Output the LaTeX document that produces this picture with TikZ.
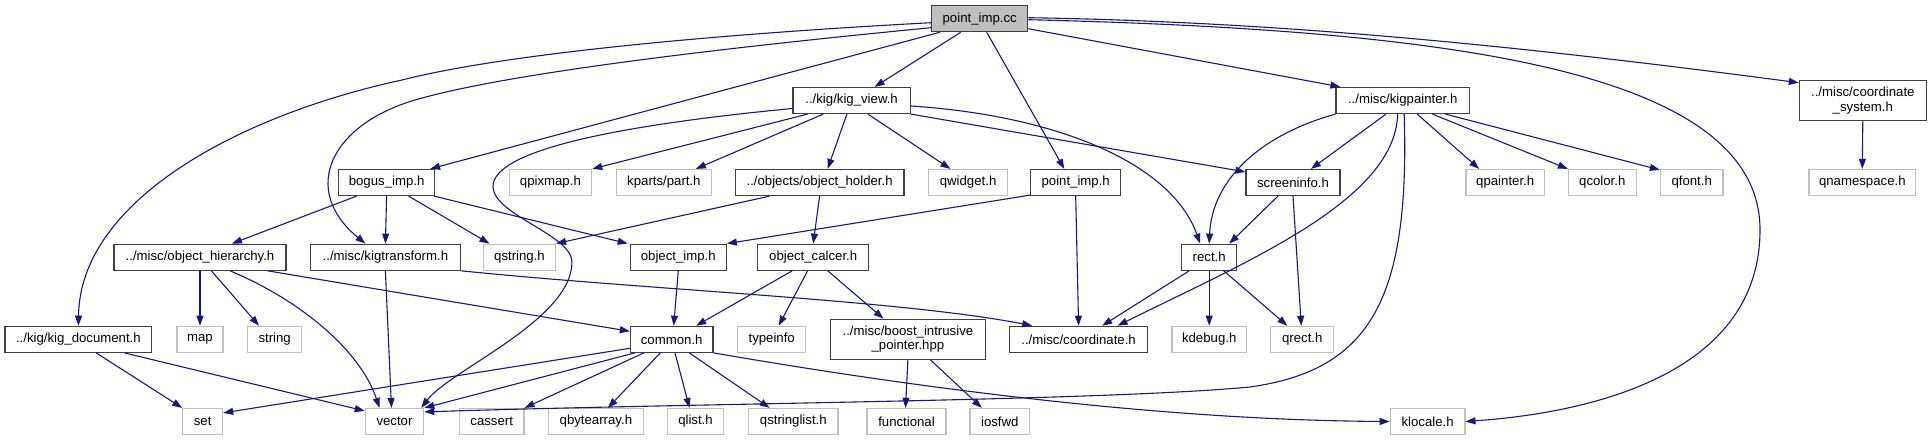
\documentclass[tikz,border=0pt]{standalone}
\usepackage{fontspec}
\setmainfont{Liberation Sans}
\usetikzlibrary{arrows.meta}
\definecolor{edgeblue}{HTML}{191970}
\definecolor{extgray}{HTML}{BFBFBF}
\definecolor{nodeborder}{HTML}{404040}
\begin{document}
\begin{tikzpicture}[x=1pt,y=-1pt,
  box/.style={rectangle, inner sep=0pt, minimum height=26pt, align=center,
    font=\fontsize{13.2}{14.7}\selectfont, text=black, line width=1.2pt},
  int/.style={box, draw=nodeborder, fill=white},
  ext/.style={box, draw=extgray, fill=white},
  rootn/.style={box, draw=nodeborder, fill=extgray},
  dep/.style={draw=edgeblue, line width=1.1pt, -{Triangle[length=10pt,width=7pt]}}]
\useasboundingbox (0,0) rectangle (1931,440);
% row 1
\node[rootn, minimum width=96pt] (root) at (979.7,18.7) {point\_imp.cc};
% row 2
\node[int, minimum width=117.4pt] (kigview) at (851.6,100.5) {../kig/kig\_view.h};
\node[int, minimum width=133.3pt] (kigpainter) at (1402.7,100.5) {../misc/kigpainter.h};
\node[int, minimum width=126.8pt, minimum height=40pt] (coordsys) at (1862.8,100.3) {../misc/coordinate\\\_system.h};
% row 3
\node[int, minimum width=95.8pt] (bogus) at (386.6,182.5) {bogus\_imp.h};
\node[ext, minimum width=82.5pt] (qpixmap) at (550.4,182.5) {qpixmap.h};
\node[ext, minimum width=94.7pt] (kparts) at (663.9,182.5) {kparts/part.h};
\node[int, minimum width=168.7pt] (objholder) at (819.6,182.5) {../objects/object\_holder.h};
\node[ext, minimum width=79pt] (qwidget) at (968.1,182.5) {qwidget.h};
\node[int, minimum width=89.7pt] (pointimph) at (1075.7,182.5) {point\_imp.h};
\node[int, minimum width=94pt] (screeninfo) at (1293,182.5) {screeninfo.h};
\node[ext, minimum width=78.6pt] (qpainter) at (1505.2,182.5) {qpainter.h};
\node[ext, minimum width=67.7pt] (qcolor) at (1602.3,182.5) {qcolor.h};
\node[ext, minimum width=62.6pt] (qfont) at (1691.7,182.5) {qfont.h};
\node[ext, minimum width=106.8pt] (qnamespace) at (1862.3,182.5) {qnamespace.h};
% row 4
\node[int, minimum width=172pt] (objhier) at (200,257.2) {../misc/object\_hierarchy.h};
\node[int, minimum width=149.7pt] (kigtransform) at (385.4,257.2) {../misc/kigtransform.h};
\node[ext, minimum width=72pt] (qstring) at (519.5,257.2) {qstring.h};
\node[int, minimum width=96pt] (objimp) at (678.3,257.2) {object\_imp.h};
\node[int, minimum width=111.2pt] (objcalcer) at (813.2,257.2) {object\_calcer.h};
\node[int, minimum width=54.9pt] (rect) at (1209.2,257.2) {rect.h};
% row 5
\node[int, minimum width=146.8pt] (kigdoc) at (78.4,339.3) {../kig/kig\_document.h};
\node[ext, minimum width=46pt] (map) at (200,339.3) {map};
\node[ext, minimum width=54.3pt] (string) at (274.7,339.3) {string};
\node[int, minimum width=82.6pt] (common) at (671.7,339.3) {common.h};
\node[ext, minimum width=68.3pt] (typeinfo) at (771.7,339.3) {typeinfo};
\node[int, minimum width=154.9pt, minimum height=40pt] (boost) at (907.9,339.2) {../misc/boost\_intrusive\\\_pointer.hpp};
\node[int, minimum width=137.5pt] (coordinate) at (1078.6,339.3) {../misc/coordinate.h};
\node[ext, minimum width=74.5pt] (kdebug) at (1209.2,339.3) {kdebug.h};
\node[ext, minimum width=63pt] (qrect) at (1302.3,339.3) {qrect.h};
% row 6
\node[ext, minimum width=39.8pt] (set) at (202.7,421.5) {set};
\node[ext, minimum width=58.4pt] (vector) at (394.5,421.5) {vector};
\node[ext, minimum width=64.7pt] (cassert) at (491.7,421.5) {cassert};
\node[ext, minimum width=94.8pt] (qbytearray) at (595.9,421.5) {qbytearray.h};
\node[ext, minimum width=56.3pt] (qlist) at (695.5,421.5) {qlist.h};
\node[ext, minimum width=89.3pt] (qstringlist) at (793.3,421.5) {qstringlist.h};
\node[ext, minimum width=79pt] (functional) at (906.5,421.5) {functional};
\node[ext, minimum width=59.5pt] (iosfwd) at (999.8,421.5) {iosfwd};
\node[ext, minimum width=74.7pt] (klocale) at (1427.6,421.5) {klocale.h};

% root edges
\draw[dep] ([xshift=-19pt]root.south) -- ([xshift=23pt]kigview.north);
\draw[dep] ([xshift=7pt]root.south) -- ([xshift=-11.4pt]pointimph.north);
\draw[dep] ([xshift=-40pt]root.south) -- ([xshift=-5pt]bogus.north east);
\draw[dep] ([yshift=-4pt]root.west) .. controls (700,35) and (500,55) .. (402,80)
  .. controls (240,115) and (80,200) .. (kigdoc.north);
\draw[dep] ([yshift=-9pt]root.west) .. controls (700,50) and (500,75) .. (415,100)
  .. controls (330,125) and (300,190) .. ([xshift=-20pt]kigtransform.north);
\draw[dep] ([yshift=-10pt]root.east) -- ([xshift=5pt]kigpainter.north west);
\draw[dep] ([yshift=1pt]root.east) .. controls (1300,22) and (1550,50) .. ([yshift=-3pt]coordsys.north west);
\draw[dep] ([yshift=-1pt]root.east) .. controls (1450,30) and (1760,70) .. (1760,230)
  .. controls (1760,370) and (1600,412) .. (klocale.east);
% kig_view edges
\draw[dep] ([xshift=-44pt]kigview.south) -- (qpixmap.north east);
\draw[dep] ([xshift=-28.4pt]kigview.south) -- ([xshift=32pt]kparts.north);
\draw[dep] ([xshift=-4.7pt]kigview.south) -- ([xshift=8pt]objholder.north);
\draw[dep] ([xshift=16.3pt]kigview.south) -- ([xshift=-17.7pt]qwidget.north);
\draw[dep] (kigview.south east) -- ([yshift=-3pt]screeninfo.north west);
\draw[dep] ([yshift=-5.5pt]kigview.east) .. controls (1050,115) and (1170,160) .. ([xshift=-9pt]rect.north);
\draw[dep] ([yshift=-8pt]kigview.west) .. controls (620,125) and (492,150) .. (493,187)
  .. controls (494,215) and (572,235) .. (572,262)
  .. controls (572,320) and (450,370) .. ([xshift=-3pt]vector.north east);
% bogus edges
\draw[dep] ([xshift=-30pt]bogus.south) -- ([xshift=32pt]objhier.north);
\draw[dep] (bogus.south) -- (kigtransform.north);
\draw[dep] ([xshift=22pt]bogus.south) -- ([xshift=-30pt]qstring.north);
\draw[dep] ([xshift=-1pt]bogus.south east) -- ([xshift=-2pt]objimp.north west);
% object_holder edges
\draw[dep] ([xshift=-50pt]objholder.south) -- (qstring.north east);
\draw[dep] (objholder.south) -- (objcalcer.north);
% point_imp.h edges
\draw[dep] ([yshift=1pt]pointimph.south west) -- (objimp.north east);
\draw[dep] (pointimph.south) -- (coordinate.north);
% kigpainter edges
\draw[dep] ([xshift=-16.7pt]kigpainter.south) -- ([xshift=18pt]screeninfo.north);
\draw[dep] (kigpainter.south west) .. controls (1260,135) and (1212,180) .. (rect.north);
\draw[dep] ([xshift=-5pt]kigpainter.south) .. controls (1395,200) and (1250,260) .. ([xshift=39pt]coordinate.north);
\draw[dep] ([xshift=1.5pt]kigpainter.south) .. controls (1410,300) and (1370,370) .. (1250,387)
  .. controls (1100,401) and (700,403) .. ([yshift=-4pt]vector.north east);
\draw[dep] ([xshift=14.5pt]kigpainter.south) -- ([xshift=-26pt]qpainter.north);
\draw[dep] ([xshift=29.7pt]kigpainter.south) -- (qcolor.north west);
\draw[dep] ([xshift=42.7pt]kigpainter.south) -- ([yshift=-1pt]qfont.north west);
% coordinate_system
\draw[dep] (coordsys.south) -- (qnamespace.north);
% screeninfo
\draw[dep] ([xshift=-15pt]screeninfo.south) -- ([xshift=20pt]rect.north);
\draw[dep] (screeninfo.south) -- ([xshift=-1pt]qrect.north);
% rect
\draw[dep] ([xshift=-20pt]rect.south) -- ([xshift=23.6pt]coordinate.north);
\draw[dep] (rect.south) -- (kdebug.north);
\draw[dep] ([xshift=14.5pt]rect.south) -- ([xshift=-15pt]qrect.north);
% object_hierarchy
\draw[dep] (objhier.south) -- (map.north);
\draw[dep] ([xshift=11.4pt]objhier.south) -- ([xshift=-15.7pt]string.north);
\draw[dep] ([xshift=30pt]objhier.south) .. controls (300,300) and (360,350) .. ([xshift=-15pt]vector.north);
\draw[dep] ([xshift=67.4pt]objhier.south) -- ([yshift=8pt]common.west);
% kigtransform
\draw[dep] (kigtransform.south) -- ([xshift=-3pt]vector.north);
\draw[dep] (kigtransform.south east) .. controls (650,290) and (900,300) .. ([xshift=23pt]coordinate.north west);
% object_imp
\draw[dep] (objimp.south) -- ([xshift=2pt]common.north);
% object_calcer
\draw[dep] ([xshift=-21pt]objcalcer.south) -- ([xshift=24.5pt]common.north);
\draw[dep] ([xshift=-5.6pt]objcalcer.south) -- ([xshift=7pt]typeinfo.north);
\draw[dep] ([xshift=14.5pt]objcalcer.south) -- ([xshift=-24.4pt]boost.north);
% kig_document
\draw[dep] ([xshift=17.8pt]kigdoc.south) -- (set.north west);
\draw[dep] ([xshift=46pt]kigdoc.south) -- ([yshift=-3pt]vector.north west);
% common
\draw[dep] ([yshift=-9pt]common.west) -- ([yshift=-5pt]set.north east);
\draw[dep] ([xshift=5pt]common.south west) -- (vector.north east);
\draw[dep] ([xshift=14pt]common.south west) -- (cassert.north east);
\draw[dep] ([xshift=-11.4pt]common.south) -- ([xshift=12pt]qbytearray.north);
\draw[dep] ([xshift=3.3pt]common.south) -- ([xshift=-6pt]qlist.north);
\draw[dep] ([xshift=17.6pt]common.south) -- ([xshift=-23.7pt]qstringlist.north);
\draw[dep] (common.south east) .. controls (900,385) and (1150,420) .. (klocale.west);
% boost
\draw[dep] (boost.south) -- ([xshift=-1pt]functional.north);
\draw[dep] ([xshift=22.5pt]boost.south) -- ([xshift=-18pt]iosfwd.north);
\end{tikzpicture}
\end{document}
